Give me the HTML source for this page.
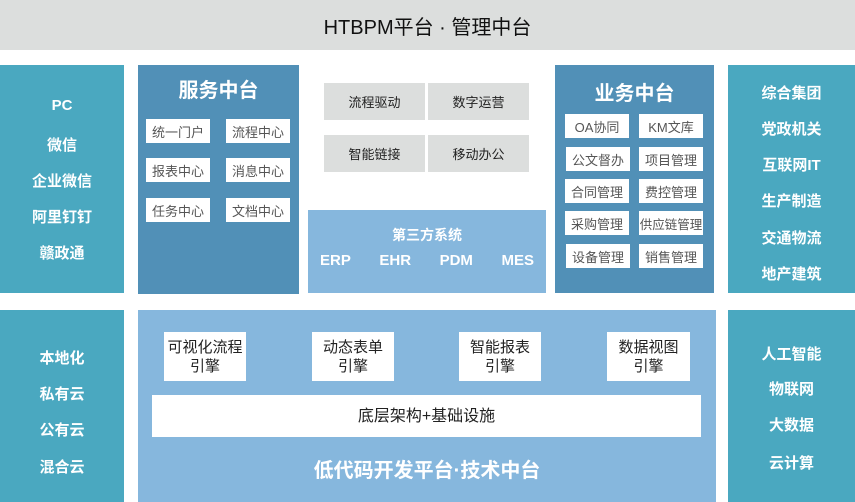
<!DOCTYPE html>
<html><head><meta charset="utf-8"><style>
body{margin:0;width:855px;height:502px;position:relative;background:#fff;overflow:hidden;font-family:"Liberation Sans","Noto Sans CJK SC",sans-serif}
div{position:absolute;box-sizing:border-box}
.c{display:flex;align-items:center;justify-content:center;text-align:center}
.w{background:#fff;color:#555;font-size:13px}
.g{background:#dcdedd;color:#222;font-size:13px}
.lb{color:#fff;font-weight:bold;font-size:15px;width:100%;text-align:center;left:0}
.e{background:#fff;color:#222;font-size:15px;line-height:19px;flex-direction:column}
</style></head><body>
<div class="c" style="left:0;top:0;width:855px;height:50px;background:#dcdedd;font-size:20px;color:#111">HTBPM平台 · 管理中台</div>

<div style="left:0;top:65px;width:124px;height:228px;background:#4aa8c0">
<div class="lb" style="top:32px">PC</div><div class="lb" style="top:69px">微信</div><div class="lb" style="top:105px">企业微信</div><div class="lb" style="top:141px">阿里钉钉</div><div class="lb" style="top:177px">赣政通</div></div>

<div style="left:138px;top:65px;width:161px;height:229px;background:#5190b7">
<div class="lb" style="top:9px;font-size:20px">服务中台</div></div>
<div class="c w" style="left:146px;top:119px;width:64px;height:24px">统一门户</div>
<div class="c w" style="left:226px;top:119px;width:64px;height:24px">流程中心</div>
<div class="c w" style="left:146px;top:158px;width:64px;height:24px">报表中心</div>
<div class="c w" style="left:226px;top:158px;width:64px;height:24px">消息中心</div>
<div class="c w" style="left:146px;top:198px;width:64px;height:24px">任务中心</div>
<div class="c w" style="left:226px;top:198px;width:64px;height:24px">文档中心</div>

<div class="c g" style="left:324px;top:83px;width:101px;height:37px">流程驱动</div>
<div class="c g" style="left:428px;top:83px;width:101px;height:37px">数字运营</div>
<div class="c g" style="left:324px;top:135px;width:101px;height:37px">智能链接</div>
<div class="c g" style="left:428px;top:135px;width:101px;height:37px">移动办公</div>

<div style="left:308px;top:210px;width:238px;height:83px;background:#86b7dd">
<div class="lb" style="top:15px;font-size:14px">第三方系统</div>
<div style="top:42px;left:12px;right:12px;display:flex;justify-content:space-between;color:#fff;font-weight:bold;font-size:15px"><span>ERP</span><span>EHR</span><span>PDM</span><span>MES</span></div></div>

<div style="left:555px;top:65px;width:159px;height:228px;background:#5190b7">
<div class="lb" style="top:12px;font-size:20px">业务中台</div></div>
<div class="c w" style="left:565px;top:114px;width:64px;height:24px">OA协同</div>
<div class="c w" style="left:639px;top:114px;width:64px;height:24px">KM文库</div>
<div class="c w" style="left:566px;top:147px;width:64px;height:24px">公文督办</div>
<div class="c w" style="left:639px;top:147px;width:64px;height:24px">项目管理</div>
<div class="c w" style="left:565px;top:179px;width:64px;height:24px">合同管理</div>
<div class="c w" style="left:639px;top:179px;width:64px;height:24px">费控管理</div>
<div class="c w" style="left:565px;top:211px;width:64px;height:24px">采购管理</div>
<div class="c w" style="left:639px;top:211px;width:64px;height:24px;font-size:12.5px">供应链管理</div>
<div class="c w" style="left:566px;top:244px;width:64px;height:24px">设备管理</div>
<div class="c w" style="left:639px;top:244px;width:64px;height:24px">销售管理</div>

<div style="left:728px;top:65px;width:127px;height:228px;background:#4aa8c0">
<div class="lb" style="top:17px">综合集团</div><div class="lb" style="top:53px">党政机关</div><div class="lb" style="top:89px">互联网IT</div><div class="lb" style="top:125px">生产制造</div><div class="lb" style="top:162px">交通物流</div><div class="lb" style="top:198px">地产建筑</div></div>

<div style="left:0;top:310px;width:124px;height:192px;background:#4aa8c0">
<div class="lb" style="top:37px">本地化</div><div class="lb" style="top:73px">私有云</div><div class="lb" style="top:109px">公有云</div><div class="lb" style="top:146px">混合云</div></div>

<div style="left:138px;top:310px;width:578px;height:192px;background:#86b7dd">
<div class="lb" style="top:144px;font-size:20px">低代码开发平台·技术中台</div></div>
<div class="c e" style="left:164px;top:332px;width:82px;height:49px"><span>可视化流程</span><span>引擎</span></div>
<div class="c e" style="left:312px;top:332px;width:82px;height:49px"><span>动态表单</span><span>引擎</span></div>
<div class="c e" style="left:459px;top:332px;width:82px;height:49px"><span>智能报表</span><span>引擎</span></div>
<div class="c e" style="left:607px;top:332px;width:83px;height:49px"><span>数据视图</span><span>引擎</span></div>
<div class="c e" style="left:152px;top:395px;width:549px;height:42px;font-size:16px">底层架构+基础设施</div>

<div style="left:728px;top:310px;width:127px;height:192px;background:#4aa8c0">
<div class="lb" style="top:33px">人工智能</div><div class="lb" style="top:68px">物联网</div><div class="lb" style="top:104px">大数据</div><div class="lb" style="top:142px">云计算</div></div>
</body></html>
